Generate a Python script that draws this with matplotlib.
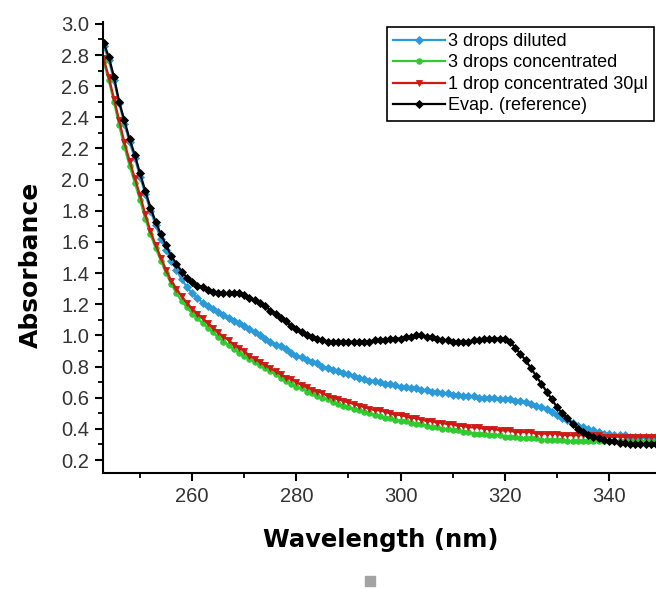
"""UV-vis absorbance spectra of the drop samples vs the evaporated reference."""

import matplotlib.pyplot as plt
import numpy as np
from matplotlib.patches import Rectangle
from matplotlib.ticker import MultipleLocator

# ================================ DATA ======================================

wavelength = np.arange(243, 350)  # nm, 1 nm steps

diluted_3 = [
    2.86, 2.77, 2.64, 2.49, 2.36, 2.24, 2.14, 2.02, 1.91, 1.80,   # 243-252
    1.71, 1.62, 1.55, 1.48, 1.42, 1.36, 1.31, 1.27, 1.24, 1.21,   # 253-262
    1.19, 1.17, 1.15, 1.13, 1.11, 1.09, 1.08, 1.06, 1.04, 1.02,   # 263-272
    1.00, 0.98, 0.96, 0.94, 0.93, 0.91, 0.89, 0.87, 0.86, 0.84,   # 273-282
    0.83, 0.82, 0.80, 0.79, 0.78, 0.77, 0.76, 0.75, 0.74, 0.73,   # 283-292
    0.72, 0.71, 0.71, 0.70, 0.69, 0.69, 0.68, 0.67, 0.67, 0.66,   # 293-302
    0.66, 0.65, 0.65, 0.64, 0.64, 0.63, 0.63, 0.62, 0.62, 0.61,   # 303-312
    0.61, 0.61, 0.60, 0.60, 0.60, 0.60, 0.59, 0.59, 0.59, 0.58,   # 313-322
    0.58, 0.57, 0.56, 0.55, 0.54, 0.53, 0.51, 0.49, 0.47, 0.46,   # 323-332
    0.44, 0.42, 0.41, 0.40, 0.39, 0.38, 0.37, 0.37, 0.36, 0.36,   # 333-342
    0.36, 0.35, 0.35, 0.35, 0.35, 0.35, 0.35,                     # 343-349
]

concentrated_3 = [
    2.76, 2.64, 2.50, 2.35, 2.21, 2.09, 1.98, 1.87, 1.75, 1.65,
    1.56, 1.48, 1.40, 1.33, 1.27, 1.22, 1.18, 1.14, 1.11, 1.08,
    1.05, 1.02, 0.99, 0.96, 0.94, 0.91, 0.89, 0.87, 0.85, 0.83,
    0.81, 0.79, 0.77, 0.75, 0.73, 0.71, 0.69, 0.67, 0.66, 0.64,
    0.63, 0.61, 0.60, 0.59, 0.57, 0.56, 0.55, 0.54, 0.53, 0.52,
    0.51, 0.50, 0.49, 0.48, 0.47, 0.47, 0.46, 0.45, 0.45, 0.44,
    0.43, 0.43, 0.42, 0.41, 0.41, 0.40, 0.40, 0.39, 0.39, 0.38,
    0.38, 0.37, 0.37, 0.37, 0.36, 0.36, 0.36, 0.35, 0.35, 0.35,
    0.34, 0.34, 0.34, 0.34, 0.33, 0.33, 0.33, 0.33, 0.33, 0.32,
    0.32, 0.32, 0.32, 0.32, 0.32, 0.32, 0.32, 0.32, 0.32, 0.32,
    0.32, 0.32, 0.32, 0.32, 0.32, 0.32, 0.32,
]

drop_1_30ul = [
    2.78, 2.66, 2.52, 2.38, 2.24, 2.12, 2.01, 1.90, 1.78, 1.67,
    1.58, 1.50, 1.42, 1.35, 1.30, 1.25, 1.21, 1.17, 1.14, 1.11,
    1.08, 1.05, 1.02, 0.99, 0.97, 0.94, 0.92, 0.90, 0.87, 0.85,
    0.83, 0.81, 0.79, 0.77, 0.75, 0.73, 0.72, 0.70, 0.68, 0.67,
    0.65, 0.64, 0.63, 0.61, 0.60, 0.59, 0.58, 0.57, 0.56, 0.55,
    0.54, 0.53, 0.52, 0.52, 0.51, 0.50, 0.49, 0.49, 0.48, 0.47,
    0.47, 0.46, 0.45, 0.45, 0.44, 0.44, 0.43, 0.43, 0.42, 0.42,
    0.41, 0.41, 0.41, 0.40, 0.40, 0.40, 0.39, 0.39, 0.39, 0.38,
    0.38, 0.38, 0.38, 0.37, 0.37, 0.37, 0.37, 0.37, 0.36, 0.36,
    0.36, 0.36, 0.36, 0.36, 0.36, 0.36, 0.35, 0.35, 0.35, 0.35,
    0.35, 0.35, 0.35, 0.35, 0.35, 0.35, 0.35,
]

evap_reference = [
    2.88, 2.79, 2.66, 2.50, 2.38, 2.26, 2.16, 2.04, 1.93, 1.82,
    1.73, 1.65, 1.58, 1.51, 1.46, 1.41, 1.37, 1.34, 1.32, 1.31,
    1.29, 1.28, 1.27, 1.27, 1.27, 1.27, 1.27, 1.26, 1.24, 1.23,
    1.21, 1.19, 1.16, 1.14, 1.11, 1.09, 1.06, 1.04, 1.02, 1.00,
    0.99, 0.98, 0.97, 0.96, 0.96, 0.96, 0.96, 0.96, 0.96, 0.96,
    0.96, 0.96, 0.97, 0.97, 0.97, 0.98, 0.98, 0.98, 0.99, 0.99,
    1.00, 1.00, 0.99, 0.99, 0.98, 0.97, 0.97, 0.96, 0.96, 0.96,
    0.96, 0.97, 0.97, 0.98, 0.98, 0.98, 0.98, 0.98, 0.96, 0.92,
    0.88, 0.84, 0.79, 0.74, 0.69, 0.64, 0.59, 0.54, 0.50, 0.47,
    0.43, 0.40, 0.38, 0.36, 0.35, 0.34, 0.33, 0.32, 0.32, 0.31,
    0.31, 0.30, 0.30, 0.30, 0.30, 0.30, 0.30,
]

labels = [
    '3 drops diluted',
    '3 drops concentrated',
    '1 drop concentrated 30\u00b5l',
    'Evap. (reference)',
]

# ================================ PLOT ======================================

series = [diluted_3, concentrated_3, drop_1_30ul, evap_reference]
colors = ['#2d9ad8', '#2ecc2e', '#cc1a14', '#000000']
markers = ['D', 'o', 'v', 'D']
msizes = [3.8, 4.0, 4.6, 3.8]

fig = plt.figure(figsize=(6.56, 5.89), dpi=100)
ax = fig.add_axes([103 / 656, 1 - 473 / 589, 553 / 656, 451 / 589])

for yy, c, m, ms, lab in zip(series, colors, markers, msizes, labels):
    ax.plot(wavelength, yy, color=c, lw=1.6, marker=m, ms=ms, mec=c, mew=0.6,
            label=lab)

ax.set_xlim(242.9, 349.0)
ax.set_ylim(0.117, 3.012)

ax.xaxis.set_major_locator(MultipleLocator(20))
ax.xaxis.set_minor_locator(MultipleLocator(10))
ax.yaxis.set_major_locator(MultipleLocator(0.2))
ax.yaxis.set_minor_locator(MultipleLocator(0.1))
ax.yaxis.set_major_formatter(plt.FormatStrFormatter('%.1f'))

for side in ('top', 'right'):
    ax.spines[side].set_visible(False)
for side in ('left', 'bottom'):
    ax.spines[side].set_linewidth(1.5)

ax.tick_params(which='major', direction='out', length=6, width=1.5, pad=4,
               labelsize=14.5, colors='black')
ax.tick_params(which='minor', direction='out', length=3.5, width=1.3)
for lab in ax.get_xticklabels() + ax.get_yticklabels():
    lab.set_family('Liberation Sans')
    lab.set_color('#333333')

ax.set_xlabel('Wavelength (nm)', family='DejaVu Sans', fontweight='bold',
              fontsize=17.5)
ax.set_ylabel('Absorbance', family='DejaVu Sans', fontweight='bold',
              fontsize=18)
ax.xaxis.set_label_coords(0.503, -0.122)
ax.yaxis.set_label_coords(-0.108, 0.461)

leg = ax.legend(loc='upper right', bbox_to_anchor=(0.997, 0.99),
                borderaxespad=0, fancybox=False, framealpha=1,
                edgecolor='black', handlelength=2.9, handletextpad=0.15,
                labelspacing=0.25, borderpad=0.35,
                prop={'family': 'Liberation Sans', 'size': 13})
leg.get_frame().set_linewidth(1.2)

# small grey square under the axis title, part of the original capture
fig.patches.append(Rectangle((365 / 656, 1 - 586 / 589), 10 / 656, 10 / 589,
                             transform=fig.transFigure, color='#a3a3a3'))

fig.savefig('out.png', dpi=100)
